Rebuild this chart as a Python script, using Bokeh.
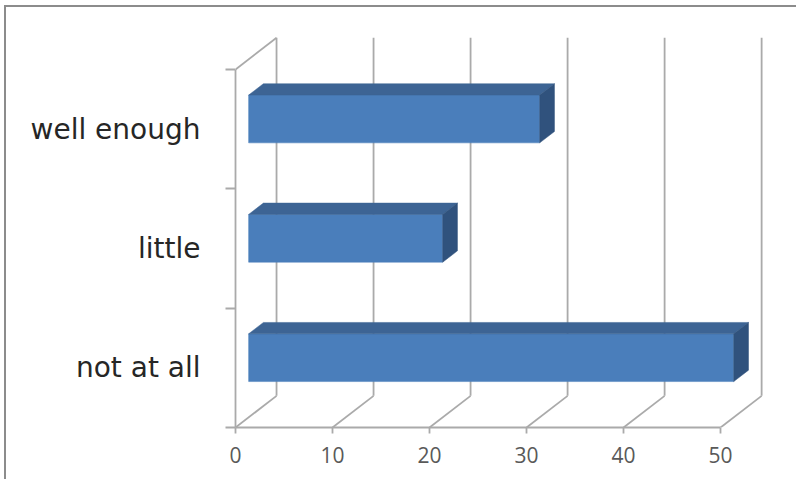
from bokeh.plotting import figure
from bokeh.models import FixedTicker, Range1d, LinearAxis
from bokeh.embed import file_html
from bokeh.resources import INLINE

# ---- data ----
categories = ["not at all", "little", "well enough"]
values = [50, 20, 30]
x_ticks = [0, 10, 20, 30, 40, 50]

# ---- 3D geometry (in data units) ----
DX = 4.23    # depth offset along value axis
DY = 0.265   # depth offset along category axis
D0, D1 = 0.32, 0.68   # bar depth span (fraction of wall depth)
BAR_H = 0.40

FRONT = "#4a7ebb"
TOP = "#3d6494"
SIDE = "#30527d"
GRID = "#aaaaaa"

# page offset of the chart border (left 4px + 2px border, top 5px + 2px border)
OFF_L, OFF_T = 6, 7

p = figure(width=798 - OFF_L, height=481 - OFF_T, output_backend="svg",
           toolbar_location=None,
           x_range=Range1d(0, 57), y_range=Range1d(0, 3.41),
           min_border_left=235 - OFF_L, min_border_right=10,
           min_border_top=20 - OFF_T, min_border_bottom=54,
           x_axis_location=None, y_axis_location=None)
p.margin = (5, 0, 0, 4)
p.styles = {"border-top": "2px solid #8c8c8c", "border-left": "2px solid #8c8c8c"}
p.outline_line_color = None
p.background_fill_color = "white"
p.border_fill_color = "white"
p.grid.grid_line_color = None

# back-wall vertical gridlines
p.segment(x0=[v + DX for v in x_ticks], y0=[DY] * len(x_ticks),
          x1=[v + DX for v in x_ticks], y1=[len(categories) + DY] * len(x_ticks),
          line_color=GRID, line_width=1.8)
# floor diagonals
p.segment(x0=x_ticks, y0=[0] * len(x_ticks),
          x1=[v + DX for v in x_ticks], y1=[DY] * len(x_ticks),
          line_color=GRID, line_width=1.8)
# left wall top edge
p.segment(x0=[0], y0=[len(categories)], x1=[DX], y1=[len(categories) + DY],
          line_color=GRID, line_width=1.8)

# bars
centers = [i + 0.5 for i in range(len(categories))]
p.quad(left=[D0 * DX] * len(values), right=[v + D0 * DX for v in values],
       bottom=[c - BAR_H / 2 + D0 * DY for c in centers],
       top=[c + BAR_H / 2 + D0 * DY for c in centers],
       fill_color=FRONT, line_color=FRONT, line_width=0.5)
top_xs, top_ys, side_xs, side_ys = [], [], [], []
for v, c in zip(values, centers):
    t = c + BAR_H / 2
    b = c - BAR_H / 2
    top_xs.append([D0 * DX, v + D0 * DX, v + D1 * DX, D1 * DX])
    top_ys.append([t + D0 * DY, t + D0 * DY, t + D1 * DY, t + D1 * DY])
    side_xs.append([v + D0 * DX, v + D1 * DX, v + D1 * DX, v + D0 * DX])
    side_ys.append([b + D0 * DY, b + D1 * DY, t + D1 * DY, t + D0 * DY])
p.patches(xs=top_xs, ys=top_ys, fill_color=TOP, line_color=TOP, line_width=0.5)
p.patches(xs=side_xs, ys=side_ys, fill_color=SIDE, line_color=SIDE, line_width=0.5)

# x axis (front floor edge)
xa = LinearAxis(ticker=FixedTicker(ticks=x_ticks, minor_ticks=[]), bounds=(0, 50))
xa.axis_line_color = GRID
xa.axis_line_width = 1.8
xa.major_tick_line_color = GRID
xa.major_tick_line_width = 1.8
xa.major_tick_in = 0
xa.major_tick_out = 6
xa.minor_tick_line_color = None
xa.major_label_text_font = "Open Sans"
xa.major_label_text_font_size = "21px"
xa.major_label_text_color = "#595959"
xa.major_label_standoff = 13
p.add_layout(xa, "below")

# y axis (front left wall edge)
ya = LinearAxis(ticker=FixedTicker(ticks=centers, minor_ticks=list(range(len(categories) + 1))),
                bounds=(0, len(categories)))
ya.major_label_overrides = {c: name for c, name in zip(centers, categories)}
ya.axis_line_color = GRID
ya.axis_line_width = 1.8
ya.major_tick_line_color = None
ya.major_tick_in = 0
ya.major_tick_out = 0
ya.minor_tick_line_color = GRID
ya.minor_tick_line_width = 1.8
ya.minor_tick_in = 0
ya.minor_tick_out = 10
ya.major_label_text_font = "DejaVu Sans"
ya.major_label_text_font_size = "28px"
ya.major_label_text_color = "#262626"
ya.major_label_standoff = 25
p.add_layout(ya, "left")

open("out.html", "w").write(file_html(p, INLINE))
